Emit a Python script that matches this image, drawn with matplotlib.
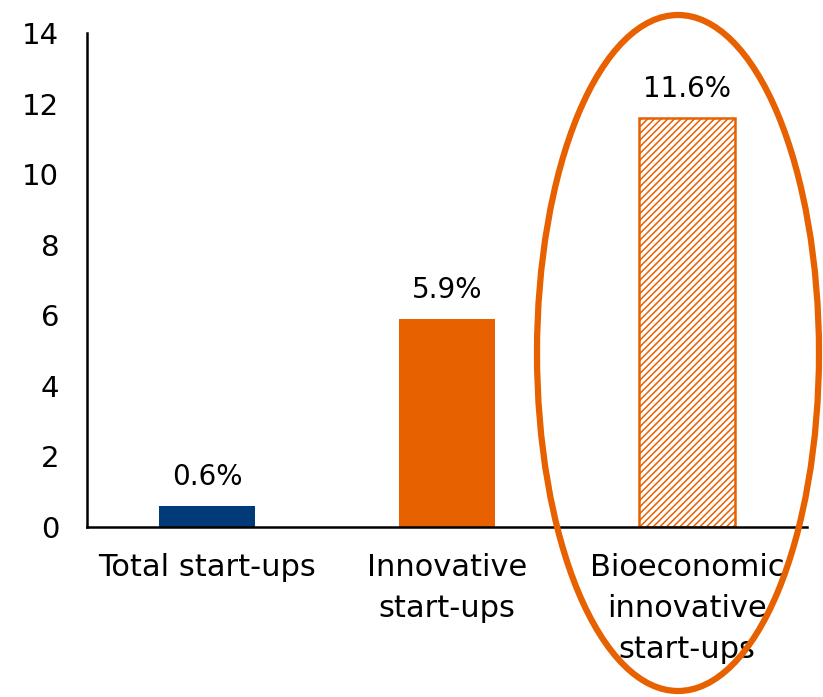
import matplotlib
matplotlib.use('Agg')
import matplotlib.pyplot as plt
from matplotlib.patches import Ellipse

# data
categories = ['Total start-ups', 'Innovative\nstart-ups', 'Bioeconomic\ninnovative\nstart-ups']
values = [0.6, 5.9, 11.6]
labels = ['0.6%', '5.9%', '11.6%']

navy = '#003a78'
orange = '#e86100'

plt.rcParams['font.family'] = 'DejaVu Sans'
plt.rcParams['hatch.linewidth'] = 1.1
plt.rcParams['hatch.color'] = orange

fig = plt.figure(figsize=(8.23, 6.97), dpi=100)
ax = fig.add_axes([0.1057, 0.2439, 0.875, 0.7088])

x = range(len(values))
ax.bar(0, values[0], width=0.4, color=navy)
ax.bar(1, values[1], width=0.4, color=orange)
ax.bar(2, values[2], width=0.4, color='white', edgecolor=orange, hatch='/////', linewidth=1.8)

for i in x:
   ax.text(i, values[i] + 0.42, labels[i], ha='center', va='bottom', fontsize=20)

ax.set_xlim(-0.5, 2.5)
ax.set_ylim(0, 14)
ax.set_yticks(range(0, 15, 2))
ax.set_xticks(list(x))
ax.set_xticklabels(categories, fontsize=22, linespacing=1.52)
ax.tick_params(axis='both', length=0)
ax.tick_params(axis='y', pad=20, labelsize=21)
ax.tick_params(axis='x', pad=19)
for s in ['top', 'right']:
   ax.spines[s].set_visible(False)
ax.spines['left'].set_linewidth(1.8)
ax.spines['bottom'].set_linewidth(1.8)

# highlight ring round the last bar
ring = Ellipse((678/823, 1-353/697), 282/823, 676/697, transform=fig.transFigure,
               fill=False, edgecolor=orange, linewidth=4.5, clip_on=False)
fig.patches.append(ring)

fig.savefig('out.png', dpi=100)
